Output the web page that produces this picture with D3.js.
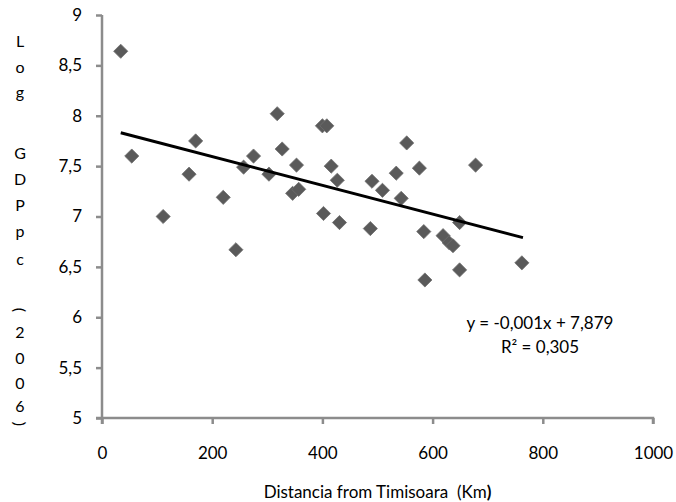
<!DOCTYPE html>
<html>
<head>
<meta charset="utf-8">
<script src="https://cdn.jsdelivr.net/npm/d3@7"></script>
<style>
  body { margin: 0; background: #fff; }
  svg { display: block; font-family: Lato, "Open Sans", sans-serif; }
</style>
</head>
<body>
<svg id="chart" width="676" height="502"></svg>
<script>
// distance from Timisoara (km) and log GDP per capita
const distanceKm = [34, 54, 111, 158, 170, 220, 243, 257, 275, 303, 318, 327, 346, 353, 357,
    400, 408, 402, 416, 427, 431, 487, 490, 509, 534, 543, 553, 576, 584, 586,
    619, 630, 637, 649, 649, 678, 762];
const logGdp = [8.64, 7.60, 7.00, 7.42, 7.75, 7.19, 6.67, 7.49, 7.60, 7.42, 8.02, 7.67, 7.23, 7.51, 7.27,
    7.90, 7.90, 7.03, 7.50, 7.36, 6.94, 6.88, 7.35, 7.26, 7.43, 7.18, 7.73, 7.48, 6.85, 6.37,
    6.81, 6.74, 6.71, 6.94, 6.47, 7.51, 6.54];

const xTicks = [0, 200, 400, 600, 800, 1000];
const xTickLabels = ["0", "200", "400", "600", "800", "1000"];
const yTicks = [5, 5.5, 6, 6.5, 7, 7.5, 8, 8.5, 9];
const yTickLabels = ["5", "5,5", "6", "6,5", "7", "7,5", "8", "8,5", "9"];

// linear trend line as drawn (Excel shows it rounded)
const trendSlope = -0.001425;
const trendIntercept = 7.879;
const trendText = ["y = -0,001x + 7,879", "R² = 0,305"];

const yTitleChars = ["L", "o", "g", "G", "D", "P", "p", "c", "(", "2", "0", "0", "6", ")"];
const yTitlePos = [40, 66, 91, 152, 178, 204, 230, 258, 310, 331, 357, 382, 405, 424];

const svg = d3.select("#chart");

const x = d3.scaleLinear().domain([0, 1000]).range([102, 653]);
const y = d3.scaleLinear().domain([5, 9]).range([418, 15]);

const axisColor = "#8c8c8c";

// y axis
const yAxis = svg.append("g")
    .attr("transform", "translate(" + x(0) + ",0)")
    .call(d3.axisLeft(y).tickValues(yTicks).tickSize(6).tickPadding(14)
        .tickFormat((d, i) => yTickLabels[i]));
yAxis.select(".domain").attr("stroke", axisColor).attr("stroke-width", 2.5)
    .attr("d", "M0," + y(9) + "V" + (y(5) + 6));

// x axis
const xAxis = svg.append("g")
    .attr("transform", "translate(0," + y(5) + ")")
    .call(d3.axisBottom(x).tickValues(xTicks).tickSize(6).tickPadding(23)
        .tickFormat((d, i) => xTickLabels[i]));
xAxis.select(".domain").attr("stroke", axisColor).attr("stroke-width", 2.5)
    .attr("d", "M" + (x(0) - 6) + ",0H" + x(1000) + "V6");

svg.selectAll(".tick line").attr("stroke", axisColor).attr("stroke-width", 2.5);
svg.selectAll(".tick text").attr("fill", "#000").style("font-size", "17px")
    .style("font-family", "Lato, 'Open Sans', sans-serif");

// points
const diamond = d3.symbol().type(d3.symbolDiamond2).size(128);
svg.append("g").selectAll("path")
    .data(distanceKm)
    .enter()
    .append("path")
    .attr("d", diamond)
    .attr("transform", (d, i) => "translate(" + x(d) + "," + y(logGdp[i]) + ")")
    .attr("fill", "#5a5a5a")
    .attr("stroke", "#6e6e6e")
    .attr("stroke-width", 0.8);

// trend line
const xMin = d3.min(distanceKm), xMax = d3.max(distanceKm) + 2;
svg.append("line")
    .attr("x1", x(xMin)).attr("y1", y(trendIntercept + trendSlope * xMin))
    .attr("x2", x(xMax)).attr("y2", y(trendIntercept + trendSlope * xMax))
    .attr("stroke", "#000")
    .attr("stroke-width", 3);

// equation
svg.append("g").selectAll("text")
    .data(trendText)
    .enter()
    .append("text")
    .attr("x", 540)
    .attr("y", (d, i) => 329 + i * 24)
    .attr("text-anchor", "middle")
    .style("font-size", "17px")
    .text(d => d);

// axis titles
svg.append("text")
    .attr("x", x(500))
    .attr("y", 498)
    .attr("text-anchor", "middle")
    .attr("xml:space", "preserve")
    .style("font-size", "17px")
    .text("Distancia from Timisoara  (Km")
    .append("tspan").style("font-weight", "bold").text(")");

svg.append("g").selectAll("text")
    .data(yTitleChars)
    .enter()
    .append("text")
    .attr("text-anchor", "middle")
    .attr("dominant-baseline", "central")
    .attr("transform", (d, i) => "translate(20," + yTitlePos[i] + ")" + (d === "(" || d === ")" ? " rotate(90)" : ""))
    .style("font-size", "16px")
    .text(d => d);
</script>
</body>
</html>
